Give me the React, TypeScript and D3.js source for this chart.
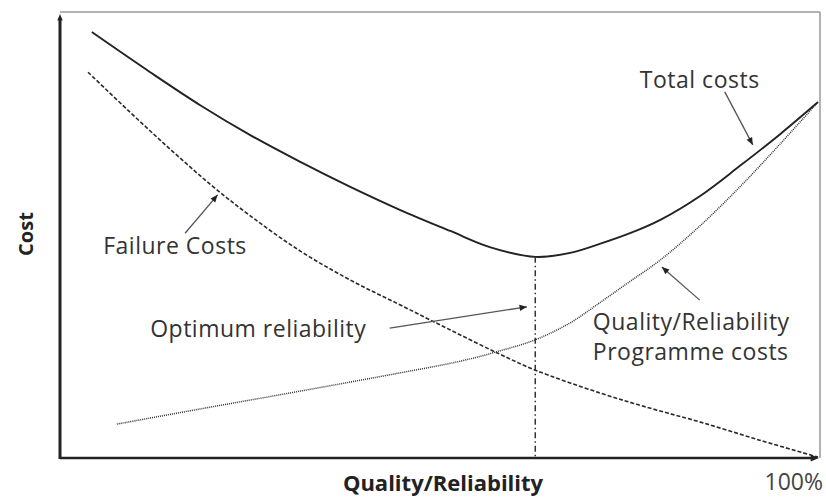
import React from 'react';
import * as d3 from 'd3';

// quality level (% of max) on x, relative cost on y
const totalX = [4.2, 11.9, 18.5, 25.1, 31.7, 38.3, 44.9, 51.5, 56.7, 62.7, 67.3, 71.2, 75.2, 79.2, 84.4, 89.7, 95.0, 100];
const totalY = [95.5, 86.5, 79.1, 72.4, 66.4, 60.8, 55.6, 50.9, 47.3, 45.1, 46.0, 48.0, 50.4, 53.4, 58.7, 65.5, 72.6, 79.8];

const failureX = [3.7, 9.2, 14.5, 19.8, 25.1, 31.7, 38.3, 44.9, 51.5, 58.0, 62.7, 71.2, 77.8, 84.4, 92.3, 100];
const failureY = [86.5, 77.6, 69.3, 61.4, 54.3, 46.4, 39.9, 34.3, 28.7, 23.3, 19.7, 14.6, 11.2, 8.1, 4.0, 0.2];

const programmeX = [7.5, 18.5, 31.7, 44.9, 52.8, 58.0, 62.7, 67.3, 71.2, 75.2, 79.2, 84.4, 89.7, 95.0, 100];
const programmeY = [7.6, 11.0, 15.0, 19.1, 21.7, 24.0, 26.5, 30.3, 34.8, 39.6, 44.4, 52.0, 60.8, 70.4, 79.8];

const optimumX = 62.7;
const optimumY = 45.1;

const labels = [
  { lines: ['Total costs'], x: 76.5, y: 83.0, from: [87.7, 82.1], to: [91.4, 70.2] },
  { lines: ['Failure Costs'], x: 5.7, y: 45.7, from: [16.5, 50.4], to: [20.8, 59.0] },
  { lines: ['Optimum reliability'], x: 11.9, y: 27.1, from: [43.5, 29.1], to: [61.6, 33.9] },
  { lines: ['Quality/Reliability', 'Programme costs'], x: 70.3, y: 28.7, from: [84.4, 35.4], to: [79.4, 42.8] },
];

const W = 826;
const H = 503;
const FONT = '"Open Sans", sans-serif';

const App = () => {
  const x = d3.scaleLinear().domain([0, 100]).range([60, 818]);
  const y = d3.scaleLinear().domain([0, 100]).range([458, 12]);

  const line = d3
    .line<[number, number]>()
    .x(d => x(d[0]))
    .y(d => y(d[1]))
    .curve(d3.curveCatmullRom.alpha(0.5));

  const zip = (xs: number[], ys: number[]) => xs.map((v, i) => [v, ys[i]] as [number, number]);

  const arrowHead = (x1: number, y1: number, x2: number, y2: number, size = 7) => {
    const a = Math.atan2(y2 - y1, x2 - x1);
    const p1 = [x2 - size * Math.cos(a - 0.4), y2 - size * Math.sin(a - 0.4)];
    const p2 = [x2 - size * Math.cos(a + 0.4), y2 - size * Math.sin(a + 0.4)];
    return `M${x2},${y2}L${p1[0]},${p1[1]}L${p2[0]},${p2[1]}Z`;
  };

  const x0 = x(0), x1 = x(100), y0 = y(0), y1 = y(100);

  return (
    <svg width={W} height={H} style={{ position: 'absolute', left: 0, top: 0, background: '#fff' }}>
      {/* frame */}
      <line x1={x0} y1={y1} x2={x1 + 2} y2={y1} stroke="#999" strokeWidth={1.5} />
      <line x1={x1 + 2} y1={y1} x2={x1 + 2} y2={y0} stroke="#999" strokeWidth={1.5} />

      {/* axes */}
      <line x1={x0} y1={y0} x2={x1 - 4} y2={y0} stroke="#222" strokeWidth={2.5} />
      <path d={arrowHead(x0, y0, x1 + 1, y0, 9)} fill="#222" />
      <line x1={x0} y1={y0 + 1} x2={x0} y2={y1 + 6} stroke="#222" strokeWidth={3} />
      <path d={arrowHead(x0, y0, x0, y1 + 2, 7)} fill="#222" />

      {/* curves */}
      <path d={line(zip(totalX, totalY)) || ''} fill="none" stroke="#222" strokeWidth={1.9} />
      <path d={line(zip(failureX, failureY)) || ''} fill="none" stroke="#2a2a2a" strokeWidth={1.6} strokeDasharray="4 2" />
      <path d={line(zip(programmeX, programmeY)) || ''} fill="none" stroke="#333" strokeWidth={1.5} strokeDasharray="1 1" />

      {/* optimum marker */}
      <line
        x1={x(optimumX)} y1={y(optimumY)} x2={x(optimumX)} y2={y0}
        stroke="#333" strokeWidth={1.5} strokeDasharray="6 3 1.5 3"
      />

      {/* annotations */}
      {labels.map((l, i) => {
        const ax1 = x(l.from[0]), ay1 = y(l.from[1]), ax2 = x(l.to[0]), ay2 = y(l.to[1]);
        return (
          <g key={i}>
            <line x1={ax1} y1={ay1} x2={ax2} y2={ay2} stroke="#555" strokeWidth={1.3} />
            <path d={arrowHead(ax1, ay1, ax2, ay2, 8)} fill="#222" />
            <text x={x(l.x)} y={y(l.y)} fontFamily={FONT} fontSize={23} letterSpacing={0.5} fill="#333">
              {l.lines.map((t, j) => (
                <tspan key={j} x={x(l.x)} dy={j === 0 ? 0 : 30}>{t}</tspan>
              ))}
            </text>
          </g>
        );
      })}

      {/* axis titles */}
      <text
        transform={`translate(33,${234}) rotate(-90)`}
        textAnchor="middle" fontFamily={FONT} fontSize={20} fontWeight="bold" fill="#222"
      >
        Cost
      </text>
      <text x={443} y={491} textAnchor="middle" fontFamily={FONT} fontSize={22} fontWeight="bold" fill="#222">
        Quality/Reliability
      </text>
      <text x={823} y={490} textAnchor="end" fontFamily={FONT} fontSize={23} fill="#444">
        100%
      </text>
    </svg>
  );
};

export default App;
